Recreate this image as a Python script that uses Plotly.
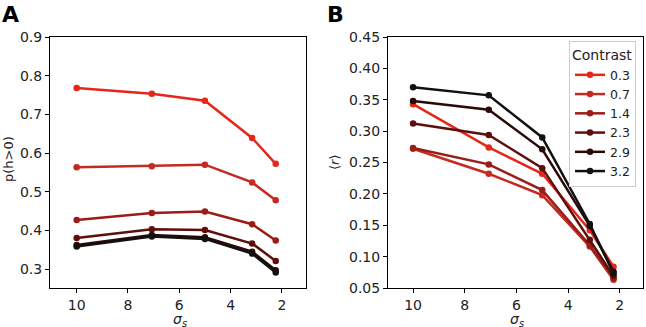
import plotly.graph_objects as go

sigma = [10, 7.07, 5, 3.16, 2.24]
contrasts = ["0.3", "0.7", "1.4", "2.3", "2.9", "3.2"]
colors = ["#e5261b", "#c52a22", "#9b1d17", "#5e0f0c", "#2c0807", "#111111"]

p_h = [
    [0.768, 0.753, 0.735, 0.639, 0.572],
    [0.563, 0.566, 0.570, 0.524, 0.478],
    [0.427, 0.445, 0.449, 0.416, 0.374],
    [0.380, 0.403, 0.401, 0.366, 0.321],
    [0.362, 0.388, 0.382, 0.345, 0.297],
    [0.358, 0.384, 0.378, 0.340, 0.291],
]
r_mean = [
    [0.343, 0.274, 0.232, 0.142, 0.084],
    [0.272, 0.232, 0.198, 0.116, 0.063],
    [0.273, 0.247, 0.206, 0.118, 0.066],
    [0.312, 0.294, 0.241, 0.127, 0.069],
    [0.348, 0.334, 0.271, 0.149, 0.076],
    [0.370, 0.357, 0.290, 0.152, 0.073],
]

W, H = 646, 327
font = "DejaVu Sans"
fig = go.Figure()
for i, c in enumerate(contrasts):
    fig.add_trace(go.Scatter(x=sigma, y=p_h[i], mode="lines+markers",
                             line=dict(color=colors[i], width=2.5),
                             marker=dict(color=colors[i], size=6.5),
                             xaxis="x", yaxis="y", showlegend=False))
for i, c in enumerate(contrasts):
    fig.add_trace(go.Scatter(x=sigma, y=r_mean[i], mode="lines+markers", name=c,
                             line=dict(color=colors[i], width=2.5),
                             marker=dict(color=colors[i], size=6.5),
                             xaxis="x2", yaxis="y2"))

ax = dict(showline=True, linecolor="black", linewidth=1, mirror=True,
          ticks="outside", ticklen=4, tickcolor="black", showgrid=False,
          zeroline=False, automargin=False,
          tickfont=dict(family=font, size=14, color="#222"))

def px(x):
    return x / W

def py(y):
    return 1 - y / H

ann = [
    dict(text="<b>A</b>", x=px(0), y=py(0), xanchor="left", yanchor="top",
         font=dict(family=font, size=22, color="black")),
    dict(text="<b>B</b>", x=px(325), y=py(0), xanchor="left", yanchor="top",
         font=dict(family=font, size=22, color="black")),
    dict(text="<i>σ</i><sub><i>s</i></sub>", x=px(180), y=py(309), xanchor="center", yanchor="top",
         font=dict(family=font, size=14, color="#222")),
    dict(text="<i>σ</i><sub><i>s</i></sub>", x=px(517), y=py(309), xanchor="center", yanchor="top",
         font=dict(family=font, size=14, color="#222")),
    dict(text="p(h>0)", x=px(8), y=py(159), xanchor="center", yanchor="middle", textangle=-90,
         font=dict(family=font, size=13, color="#222")),
    dict(text="⟨<i>r</i>⟩", x=px(334), y=py(162), xanchor="center", yanchor="middle", textangle=-90,
         font=dict(family=font, size=13, color="#222")),
]
for a in ann:
    a.update(xref="paper", yref="paper", showarrow=False)

fig.update_layout(
    width=W, height=H, margin=dict(l=0, r=0, t=0, b=0, autoexpand=False),
    paper_bgcolor="white", plot_bgcolor="white",
    font=dict(family=font, color="#222"),
    xaxis=dict(ax, domain=[px(50), px(306)], range=[11.04, 1.06],
               tickvals=[10, 8, 6, 4, 2], anchor="y"),
    yaxis=dict(ax, domain=[py(288), py(37)], range=[0.251, 0.9],
               tickvals=[0.3, 0.4, 0.5, 0.6, 0.7, 0.8, 0.9], tickformat=".1f",
               anchor="x"),
    xaxis2=dict(ax, domain=[px(388), px(643)], range=[10.97, 1.1],
                tickvals=[10, 8, 6, 4, 2], anchor="y2"),
    yaxis2=dict(ax, domain=[py(288), py(37)], range=[0.05, 0.45],
                tickvals=[0.05, 0.10, 0.15, 0.20, 0.25, 0.30, 0.35, 0.40, 0.45],
                tickformat=".2f", anchor="x2"),
    legend=dict(x=px(569), y=py(41), xanchor="left", yanchor="top",
                bordercolor="#cccccc", borderwidth=1, bgcolor="white",
                font=dict(family=font, size=12.5, color="#222"),
                title=dict(text="Contrast", side="top",
                           font=dict(family=font, size=14, color="#222")),
                tracegroupgap=0, itemwidth=30),
    annotations=ann,
)

fig.write_html("out.html", config={"displayModeBar": False},
               post_script="document.body.style.margin='0';document.body.style.overflow='hidden';")
